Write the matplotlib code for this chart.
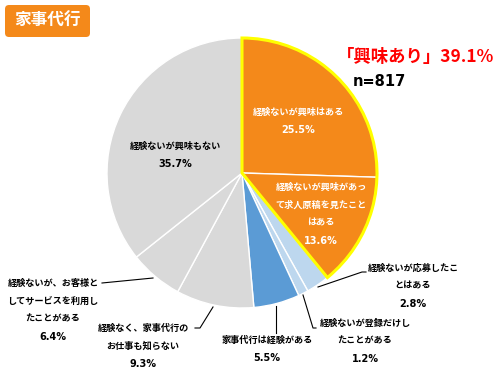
import matplotlib
matplotlib.use("Agg")
import matplotlib.pyplot as plt
from matplotlib.patches import Wedge, FancyBboxPatch

plt.rcParams['font.family'] = ['Noto Sans CJK JP', 'DejaVu Sans']

categories = ["経験ないが興味はある",
              "経験ないが興味があって求人原稿を見たことはある",
              "経験ないが応募したことはある",
              "経験ないが登録だけしたことがある",
              "家事代行は経験がある",
              "経験なく、家事代行のお仕事も知らない",
              "経験ないが、お客様としてサービスを利用したことがある",
              "経験ないが興味もない"]
values = [25.5, 13.6, 2.8, 1.2, 5.5, 9.3, 6.4, 35.7]
colors = ["#F4891A", "#F4891A", "#BDD7EE", "#BDD7EE", "#5B9BD5",
          "#D9D9D9", "#D9D9D9", "#D9D9D9"]
label_lines = [["経験ないが興味はある", "25.5%"],
               ["経験ないが興味があっ", "て求人原稿を見たこと", "はある", "13.6%"],
               ["経験ないが応募したこ", "とはある", "2.8%"],
               ["経験ないが登録だけし", "たことがある", "1.2%"],
               ["家事代行は経験がある", "5.5%"],
               ["経験なく、家事代行の", "お仕事も知らない", "9.3%"],
               ["経験ないが、お客様と", "してサービスを利用し", "たことがある", "6.4%"],
               ["経験ないが興味もない", "35.7%"]]
title = "家事代行"
interest_text = "「興味あり」39.1%"
n_text = "n=817"

W, H = 501, 371
fig = plt.figure(figsize=(W / 100, H / 100), dpi=100)
ax = fig.add_axes([0, 0, 1, 1])

def Y(y):
    return H - y

cx, cy, r = 242, Y(173), 135
ax.pie(values, colors=colors, startangle=90, counterclock=False,
       center=(cx, cy), radius=r, frame=True,
       wedgeprops=dict(edgecolor="white", linewidth=1.0))
ax.set_xlim(0, W)
ax.set_ylim(0, H)
ax.set_aspect('equal')
ax.axis('off')

# yellow outline around the "interest" slices
interest = values[0] + values[1]
ax.add_patch(Wedge((cx, cy), r, 90 - interest * 3.6, 90, facecolor="none",
                   edgecolor="#FFFF00", linewidth=2.2, zorder=5))

# label positions (pixel coords: center x, first line y)
pos = [(298, 112, "white"), (321, 187, "white"), (413, 268, "black"),
       (365, 323, "black"), (267, 340, "black"), (143, 328, "black"),
       (53, 283, "black"), (175, 146, "black")]
lh = 18
for lines, (x, y0, c) in zip(label_lines, pos):
    for i, t in enumerate(lines):
        if t.endswith('%'):
            ax.text(x, Y(y0 + i * lh), t, ha='center', va='center', fontsize=7,
                    fontweight='bold', color=c, zorder=6, family=['DejaVu Sans'])
        else:
            ax.text(x, Y(y0 + i * lh), t, ha='center', va='center', fontsize=6.6,
                    fontweight='bold', color=c, zorder=6)

# leader lines
leaders = [[(318, 287), (362, 272), (366, 272)],
           [(303, 295), (313, 328), (316, 328)],
           [(276, 306), (276, 333)],
           [(213, 307), (200, 328), (195, 328)],
           [(153, 278), (102, 283)]]
for pts in leaders:
    ax.plot([p[0] for p in pts], [Y(p[1]) for p in pts], color="black",
            linewidth=0.8, zorder=6)

# title box
ax.add_patch(FancyBboxPatch((5, Y(37)), 85, 32,
                            boxstyle="round,pad=0,rounding_size=4",
                            facecolor="#F4891A", edgecolor="none", zorder=6))
ax.text(48, Y(21), title, ha='center', va='center', fontsize=12,
        fontweight='bold', color="white", zorder=7)

ax.text(416, Y(57), interest_text, ha='center', va='center', fontsize=12.5,
        fontweight='bold', color="#FF0000")
ax.text(379, Y(82), n_text, ha='center', va='center', fontsize=10.5,
        fontweight='bold', color="black", family=['DejaVu Sans'])

fig.savefig("out.png", dpi=100)
